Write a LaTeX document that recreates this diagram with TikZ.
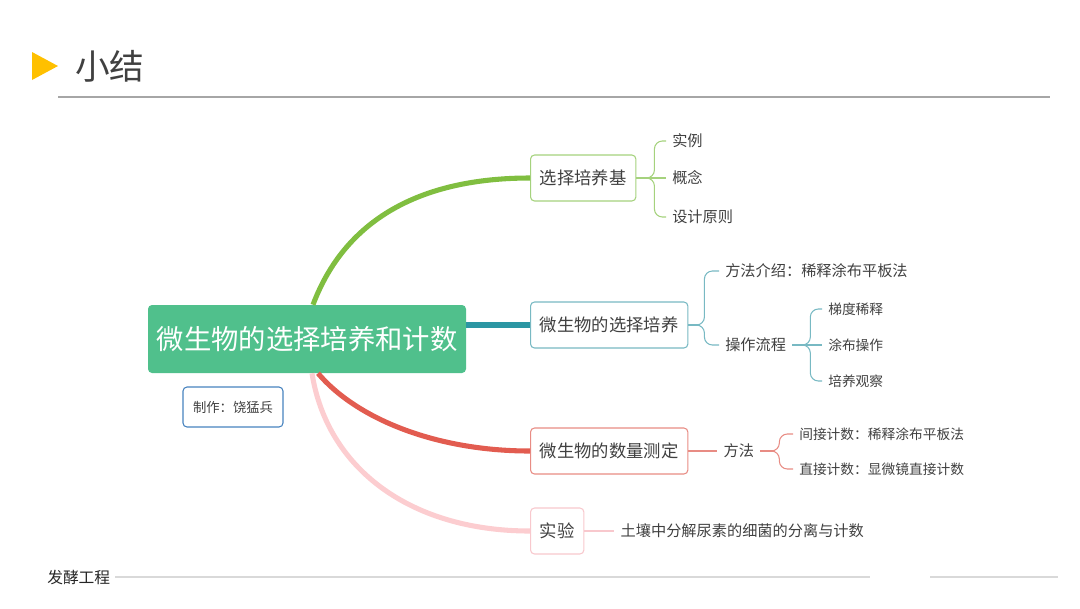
\documentclass[tikz,border=0pt]{standalone}
\usepackage{fontspec}
\setmainfont{Noto Sans CJK SC}
\usetikzlibrary{positioning}
\definecolor{Ink}{RGB}{64,64,64}
\definecolor{Arrow}{RGB}{255,192,0}
\definecolor{Rule}{RGB}{166,166,166}
\definecolor{FootRule}{RGB}{217,217,217}
\definecolor{RootFill}{RGB}{80,192,140}
\definecolor{Author}{RGB}{70,130,190}
\definecolor{GreenLine}{RGB}{128,190,64}
\definecolor{GreenBox}{RGB}{165,210,125}
\definecolor{TealLine}{RGB}{43,150,163}
\definecolor{TealBox}{RGB}{120,185,195}
\definecolor{RedLine}{RGB}{226,92,80}
\definecolor{RedBox}{RGB}{232,140,132}
\definecolor{PinkLine}{RGB}{252,205,208}
\definecolor{PinkBox}{RGB}{248,200,205}

\begin{document}
\begin{tikzpicture}[x=0.75pt, y=-0.75pt, every node/.style={text=Ink}]
\tikzstyle{mainbox}=[fill=RootFill, rounded corners=3pt, minimum width=238.5pt, minimum height=51pt, inner sep=0pt, text=white, font=\fontsize{20.5}{24}\selectfont]
\tikzstyle{topic}=[draw, line width=0.8pt, rounded corners=3pt, fill=white, anchor=west, minimum height=34.5pt, inner xsep=7pt, inner ysep=0pt, font=\fontsize{13}{15}\selectfont]
\tikzstyle{leaf}=[anchor=west, inner xsep=4.5pt, inner ysep=0pt, font=\fontsize{11.4}{13}\selectfont]
\tikzstyle{subleaf}=[leaf, font=\fontsize{10.3}{12}\selectfont]
\tikzstyle{branch}=[line width=3.8pt]
\tikzstyle{twig}=[line width=0.8pt]
\useasboundingbox (0,0) rectangle (1080,608);
% header
\fill[Arrow] (32,52) -- (32,80) -- (58,66) -- cycle;
\node[anchor=west, inner sep=0pt, font=\fontsize{26}{30}\selectfont] (title) at (75,66) {小结};
\draw[Rule, line width=1.1pt] (58,97) -- (1050,97);
% root
\node[mainbox] (root) at (307,339) {微生物的选择培养和计数};
\node[draw=Author, line width=0.8pt, rounded corners=3pt, minimum width=75pt, minimum height=30pt, font=\fontsize{10}{12}\selectfont] (author) at (233,407) {制作：饶猛兵};
% topics
\node[topic, draw=GreenBox] (medium) at (530,178) {选择培养基};
\node[topic, draw=TealBox] (culture) at (530,325) {微生物的选择培养};
\node[topic, draw=RedBox] (count) at (530,451) {微生物的数量测定};
\node[topic, draw=PinkBox] (exp) at (530,531) {实验};
\draw[branch, GreenLine] ([xshift=4.5pt]root.north) .. controls +(32,-85) and +(-110,0) .. (medium.west);
\draw[branch, TealLine] (root.east |- culture.west) -- (culture.west);
\draw[branch, RedLine] ([xshift=8.25pt]root.south) .. controls +(38,45) and +(-95,0) .. (count.west);
\draw[branch, PinkLine] ([xshift=3.75pt]root.south) .. controls +(15,95) and +(-120,0) .. (exp.west);
% selective medium
\node[leaf] (case) at (666,141) {实例};
\node[leaf] (idea) at (666,178) {概念};
\node[leaf] (rule) at (666,217) {设计原则};
\draw[twig, GreenBox] (medium.east) -- ++(14,0) coordinate (m0) -- (idea.west);
\draw[twig, GreenBox, rounded corners=6pt] (m0) -- ++(4,0) |- (case.west);
\draw[twig, GreenBox, rounded corners=6pt] (m0) -- ++(4,0) |- (rule.west);
% selective culture
\node[leaf] (method) at (719,271) {方法介绍：稀释涂布平板法};
\node[leaf] (steps) at (719,345) {操作流程};
\draw[twig, TealBox] (culture.east) -- ++(11,0) coordinate (c0);
\draw[twig, TealBox, rounded corners=6pt] (c0) -- ++(5,0) |- (method.west);
\draw[twig, TealBox, rounded corners=6pt] (c0) -- ++(5,0) |- (steps.west);
\node[subleaf] (dilute) at (822,309) {梯度稀释};
\node[subleaf] (spread) at (822,345) {涂布操作};
\node[subleaf] (observe) at (822,381) {培养观察};
\draw[twig, TealBox] (steps.east) -- ++(14,0) coordinate (s0) -- (spread.west);
\draw[twig, TealBox, rounded corners=6pt] (s0) -- ++(4,0) |- (dilute.west);
\draw[twig, TealBox, rounded corners=6pt] (s0) -- ++(4,0) |- (observe.west);
% counting
\node[leaf, right=21.75pt of count] (way) {方法};
\draw[twig, RedBox] (count.east) -- (way.west);
\node[subleaf] (indirect) at (793,434) {间接计数：稀释涂布平板法};
\node[subleaf] (direct) at (793,469) {直接计数：显微镜直接计数};
\draw[twig, RedBox] (way.east) -- ++(14,0) coordinate (w0);
\draw[twig, RedBox, rounded corners=6pt] (w0) -- ++(5,0) |- (indirect.west);
\draw[twig, RedBox, rounded corners=6pt] (w0) -- ++(5,0) |- (direct.west);
% experiment
\node[leaf, right=22.5pt of exp] (soil) {土壤中分解尿素的细菌的分离与计数};
\draw[twig, PinkBox] (exp.east) -- (soil.west);
% footer
\node[anchor=west, inner sep=0pt, text=black!85, font=\fontsize{11.8}{14}\selectfont] (foot) at (47,577) {发酵工程};
\draw[FootRule, line width=0.8pt] ([xshift=3.5pt]foot.east) -- (870,577);
\draw[FootRule, line width=0.8pt] (930,577) -- (1058,577);
\end{tikzpicture}
\end{document}
